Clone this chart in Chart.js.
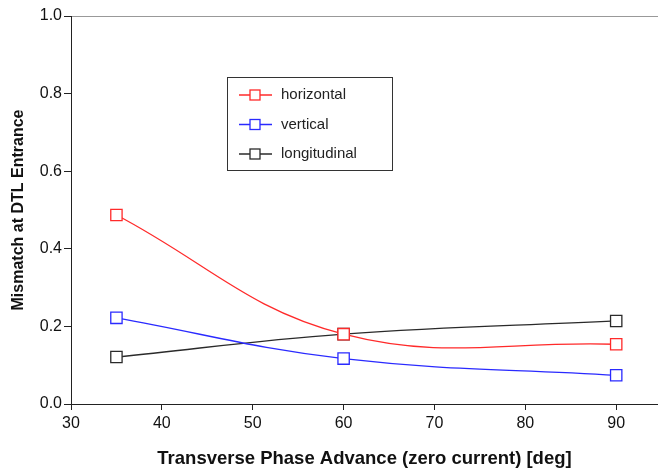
<!DOCTYPE html>
<html>
<head>
<meta charset="utf-8">
<script src="https://cdn.jsdelivr.net/npm/chart.js@4"></script>
<style>
  html, body { margin: 0; padding: 0; background: #fff; }
  #wrap { width: 658px; height: 468px; }
</style>
</head>
<body>
<div id="wrap"><canvas id="mismatchChart" width="658" height="468"></canvas></div>
<script>
// data
const phaseAdvance = [35, 60, 90];
const horizontal = [0.487, 0.180, 0.154];
const vertical = [0.222, 0.117, 0.074];
const longitudinal = [0.121, 0.180, 0.214];
const xTicks = [30, 40, 50, 60, 70, 80, 90];
const yTicks = [0.0, 0.2, 0.4, 0.6, 0.8, 1.0];

const FONT = '"Liberation Sans", Arial, sans-serif';

function toPoints(vals) {
  return phaseAdvance.map((x, i) => ({ x: x, y: vals[i] }));
}

function series(label, vals, color) {
  return {
    label: label,
    data: toPoints(vals),
    borderColor: color,
    borderWidth: 1.3,
    backgroundColor: '#fff',
    pointStyle: 'rect',
    pointRadius: 8,
    pointBorderWidth: 1.3,
    pointBackgroundColor: '#fff',
    pointBorderColor: color,
    tension: 0.4
  };
}

// legend box drawn inside the plot
const boxLegend = {
  id: 'boxLegend',
  afterDraw(chart) {
    const ctx = chart.ctx;
    const x0 = 227, y0 = 77, w = 165, h = 93;
    ctx.save();
    ctx.fillStyle = '#fff';
    ctx.fillRect(x0, y0, w, h);
    ctx.strokeStyle = '#333';
    ctx.lineWidth = 1;
    ctx.strokeRect(x0 + 0.5, y0 + 0.5, w, h);
    ctx.font = '15px ' + FONT;
    ctx.textBaseline = 'middle';
    chart.data.datasets.forEach((ds, i) => {
      const y = y0 + 18 + i * 29.5;
      ctx.strokeStyle = ds.borderColor;
      ctx.lineWidth = 1.3;
      ctx.beginPath();
      ctx.moveTo(x0 + 12, y);
      ctx.lineTo(x0 + 45, y);
      ctx.stroke();
      ctx.fillStyle = '#fff';
      ctx.fillRect(x0 + 23, y - 5, 10, 10);
      ctx.strokeRect(x0 + 23, y - 5, 10, 10);
      ctx.fillStyle = '#222';
      ctx.fillText(ds.label, x0 + 54, y);
    });
    ctx.restore();
  }
};

new Chart(document.getElementById('mismatchChart').getContext('2d'), {
  type: 'line',
  data: {
    datasets: [
      series('horizontal', horizontal, '#ff2a2a'),
      series('vertical', vertical, '#2a2aff'),
      series('longitudinal', longitudinal, '#2a2a2a')
    ]
  },
  options: {
    responsive: false,
    animation: false,
    layout: { autoPadding: false, padding: { top: 16, right: 0, left: 0, bottom: 0 } },
    plugins: {
      legend: { display: false },
      tooltip: { enabled: false }
    },
    scales: {
      x: {
        type: 'linear',
        min: 30,
        max: 94.6,
        afterBuildTicks(scale) { scale.ticks = xTicks.map(v => ({ value: v })); },
        afterFit(scale) {
          scale.height = 64;
          scale.paddingRight = 0;
        },
        border: { color: '#222', width: 1 },
        grid: { drawOnChartArea: false, tickLength: 6, color: '#222' },
        ticks: { color: '#111', font: { family: FONT, size: 16 }, padding: 4 },
        title: {
          display: true,
          text: 'Transverse Phase Advance (zero current) [deg]',
          color: '#111',
          font: { family: FONT, size: 18.5, weight: 'bold' },
          padding: { top: 6, bottom: -2 }
        }
      },
      y: {
        min: 0,
        max: 1.0,
        afterBuildTicks(scale) { scale.ticks = yTicks.map(v => ({ value: v })); },
        afterFit(scale) { scale.width = 71; },
        border: { color: '#222', width: 1 },
        grid: {
          tickLength: 7,
          color: ctx => (ctx.tick && ctx.tick.value === 1 ? '#999' : 'rgba(0,0,0,0)'),
          tickColor: '#222'
        },
        ticks: {
          color: '#111',
          font: { family: FONT, size: 16 },
          padding: 2,
          callback: v => v.toFixed(1)
        },
        title: {
          display: true,
          text: 'Mismatch at DTL Entrance',
          color: '#111',
          font: { family: FONT, size: 16, weight: 'bold' },
          padding: { bottom: 0, top: 9 }
        }
      }
    }
  },
  plugins: [boxLegend]
});
</script>
</body>
</html>
